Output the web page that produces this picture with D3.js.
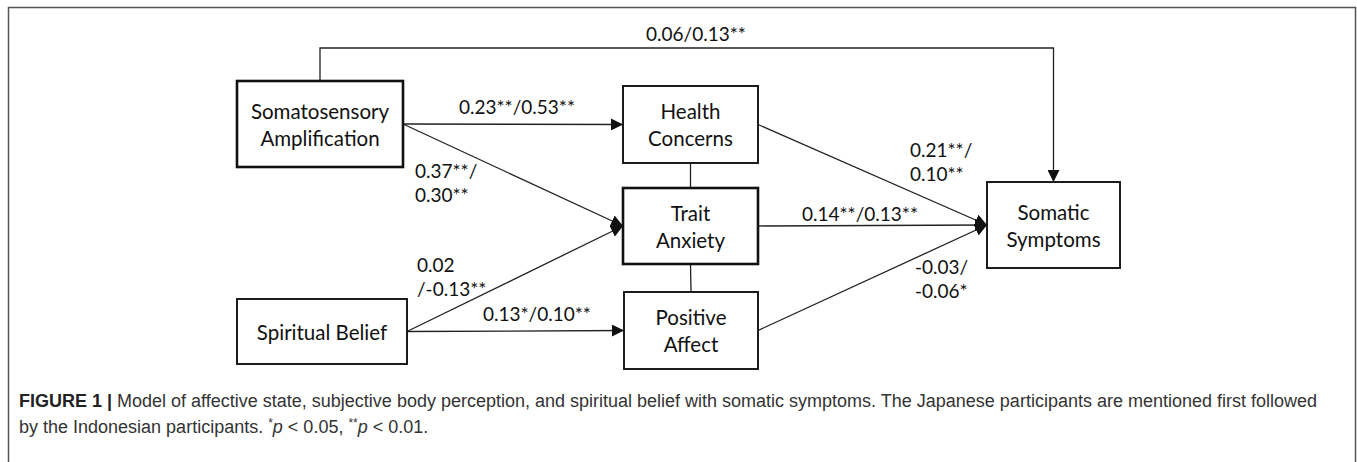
<!DOCTYPE html>
<html>
<head>
<meta charset="utf-8">
<script src="https://cdn.jsdelivr.net/npm/d3@7/dist/d3.min.js"></script>
<style>
  html, body { margin: 0; padding: 0; background: #fff; }
  svg { display: block; }
</style>
</head>
<body>
<svg id="chart" width="1357" height="462"></svg>
<script>
// ---- data ----
let nodeIds = ['SA', 'HC', 'TA', 'PA', 'SB', 'SS'];
let nodeLabels = [
    ['Somatosensory', 'Amplification'],
    ['Health', 'Concerns'],
    ['Trait', 'Anxiety'],
    ['Positive', 'Affect'],
    ['Spiritual Belief'],
    ['Somatic', 'Symptoms']
];
// paths: source, target, coefficient text (Japanese / Indonesian)
let pathFrom = ['SA', 'SA', 'SB', 'SB', 'HC', 'TA', 'PA', 'SA'];
let pathTo   = ['HC', 'TA', 'TA', 'PA', 'SS', 'SS', 'SS', 'SS'];
let pathCoef = [
    ['0.23**/0.53**'],
    ['0.37**/', '0.30**'],
    ['0.02', '/-0.13**'],
    ['0.13*/0.10**'],
    ['0.21**/', '0.10**'],
    ['0.14**/0.13**'],
    ['-0.03/', '-0.06*'],
    ['0.06/0.13**']
];
// undirected links between mediators
let linkFrom = ['HC', 'TA'];
let linkTo = ['TA', 'PA'];

let captionBold = 'FIGURE 1 | ';
let captionLine1 = 'Model of affective state, subjective body perception, and spiritual belief with somatic symptoms. The Japanese participants are mentioned first followed';

// ---- layout ----
let boxes = {
    SA: {x: 237, y: 81, w: 166, h: 86, bold: true},
    HC: {x: 623, y: 86, w: 135, h: 77},
    TA: {x: 623, y: 188, w: 135, h: 76, bold: true},
    PA: {x: 624, y: 292, w: 134, h: 77},
    SB: {x: 237, y: 299, w: 170, h: 65},
    SS: {x: 987, y: 182, w: 133, h: 86}
};
let topRouteY = 48;
let labelPos = [
    {x: 459, y: 114},
    {x: 415, y: 178},
    {x: 417, y: 272},
    {x: 483, y: 321},
    {x: 910, y: 157},
    {x: 802, y: 221},
    {x: 915, y: 274},
    {x: 646, y: 41}
];
let lineGap = 24;

let svg = d3.select('#chart');
let diagramFont = 'Lato, "Open Sans", sans-serif';

// frame
svg.append('rect')
    .attr('x', 8.5).attr('y', 7.5)
    .attr('width', 1347).attr('height', 470)
    .attr('fill', 'none')
    .attr('stroke', '#555')
    .attr('stroke-width', 1.5);

svg.append('defs').append('marker')
    .attr('id', 'arrow')
    .attr('viewBox', '0 0 12 12')
    .attr('refX', 12).attr('refY', 6)
    .attr('markerWidth', 12).attr('markerHeight', 12)
    .attr('markerUnits', 'userSpaceOnUse')
    .attr('orient', 'auto')
    .append('path')
    .attr('d', 'M0,0 L12,6 L0,12 Z')
    .attr('fill', '#111');

function side(id, s) {
    let b = boxes[id];
    if (s === 'right') return [b.x + b.w, b.y + b.h / 2];
    if (s === 'left') return [b.x, b.y + b.h / 2];
    if (s === 'top') return [b.x + b.w / 2, b.y];
    return [b.x + b.w / 2, b.y + b.h];
}

let line = d3.line();
let g = svg.append('g');

// paths
pathFrom.forEach(function (f, i) {
    let t = pathTo[i];
    let pts;
    if (f === 'SA' && t === 'SS') {
        let a = side(f, 'top'), b = side(t, 'top');
        pts = [a, [a[0], topRouteY], [b[0], topRouteY], b];
    } else {
        pts = [side(f, 'right'), side(t, 'left')];
    }
    g.append('path')
        .attr('d', line(pts))
        .attr('fill', 'none')
        .attr('stroke', '#222')
        .attr('stroke-width', 1.3)
        .attr('marker-end', 'url(#arrow)');

    let lbl = g.append('text')
        .attr('font-family', diagramFont)
        .attr('font-size', 19)
        .attr('fill', '#111');
    pathCoef[i].forEach(function (s, k) {
        lbl.append('tspan')
            .attr('x', labelPos[i].x)
            .attr('y', labelPos[i].y + k * lineGap)
            .text(s);
    });
});

linkFrom.forEach(function (f, i) {
    g.append('path')
        .attr('d', line([side(f, 'bottom'), side(linkTo[i], 'top')]))
        .attr('stroke', '#222')
        .attr('stroke-width', 1.3);
});

// boxes
nodeIds.forEach(function (id, i) {
    let b = boxes[id];
    g.append('rect')
        .attr('x', b.x).attr('y', b.y)
        .attr('width', b.w).attr('height', b.h)
        .attr('fill', '#fff')
        .attr('stroke', '#111')
        .attr('stroke-width', b.bold ? 2.6 : 1.9);
    let lines = nodeLabels[i];
    let cy = b.y + b.h / 2;
    let txt = g.append('text')
        .attr('font-family', diagramFont)
        .attr('font-size', 20.5)
        .attr('fill', '#111')
        .attr('text-anchor', 'middle');
    lines.forEach(function (s, k) {
        txt.append('tspan')
            .attr('x', b.x + b.w / 2)
            .attr('y', cy + (k - (lines.length - 1) / 2) * 27 + 8)
            .text(s);
    });
});

// caption
let capFont = '"Liberation Sans Narrow", "Arial Narrow", sans-serif';
let cap1 = svg.append('text')
    .attr('x', 19).attr('y', 407)
    .attr('font-family', capFont)
    .attr('font-size', 18)
    .attr('fill', '#333');
cap1.append('tspan').attr('font-weight', 'bold').attr('fill', '#222').text(captionBold);
cap1.append('tspan').text(captionLine1);

let cap2 = svg.append('text')
    .attr('x', 19).attr('y', 433)
    .attr('font-family', capFont)
    .attr('font-size', 18)
    .attr('fill', '#333');
cap2.append('tspan').text('by the Indonesian participants. ');
cap2.append('tspan').attr('font-size', 12).attr('dy', -6).text('*');
cap2.append('tspan').attr('font-style', 'italic').attr('dy', 6).text('p');
cap2.append('tspan').text(' < 0.05, ');
cap2.append('tspan').attr('font-size', 12).attr('dy', -6).text('**');
cap2.append('tspan').attr('font-style', 'italic').attr('dy', 6).text('p');
cap2.append('tspan').text(' < 0.01.');
</script>
</body>
</html>
